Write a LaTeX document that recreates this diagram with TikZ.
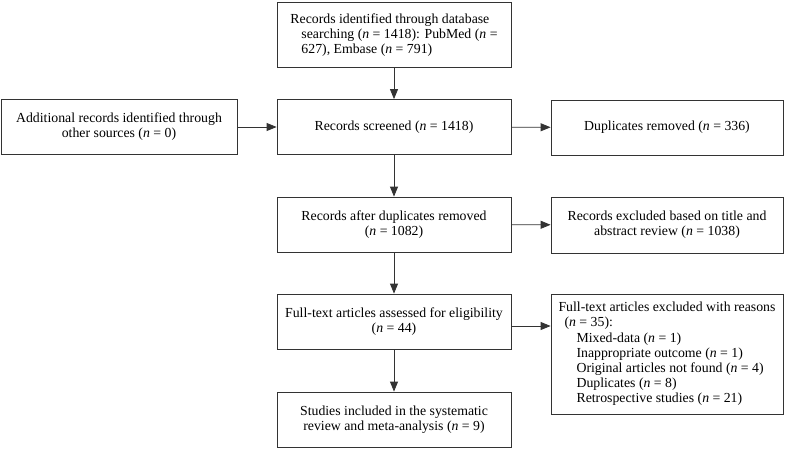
\documentclass[tikz,border=0pt]{standalone}
\usepackage{fontspec}
\setmainfont{Liberation Serif}
\usetikzlibrary{arrows.meta,positioning}
\def\cnt#1{(\textit{n} = #1)}

\begin{document}
\begin{tikzpicture}[x=1pt, y=-1pt,
	box/.style={draw=black!80, line width=0.8pt, minimum width=234pt, minimum height=55pt, inner sep=4pt, align=center, font=\fontsize{13.8}{15.2}\selectfont},
	arr/.style={draw=black!80, line width=0.8pt, -{Triangle[length=10pt,width=8pt]}}]
			%%%%% START %%%%%
			\useasboundingbox (0, 0) rectangle (787, 450);
			
			\node[box, minimum height=65pt, align=left] (ident) at (394, 35) {Records identified through database\\\hspace*{11pt}searching \cnt{1418}: PubMed (\textit{n} =\\\hspace*{11pt}627), Embase \cnt{791}};
			
			\node[box, minimum width=236pt] (other) at (119, 127) {Additional records identified through\\other sources \cnt{0}};
			\node[box] (screen) at (394, 127) {Records screened \cnt{1418}};
			\node[box, minimum width=232pt] (dupl) at (667, 127.5) {Duplicates removed \cnt{336}};
			
			\node[box] (after) at (394, 224.5) {Records after duplicates removed\\\cnt{1082}};
			\node[box, minimum width=232pt, minimum height=56pt] (excl) at (667, 225) {Records excluded based on title and\\abstract review \cnt{1038}};
			
			\node[box] (full) at (394, 321.5) {Full-text articles assessed for eligibility\\\cnt{44}};
			\node[box, minimum width=232pt, minimum height=120pt, align=left] (reason) at (667, 354) {Full-text articles excluded with reasons\\\hspace*{6pt}\cnt{35}:\\\hspace*{18pt}Mixed-data \cnt{1}\\\hspace*{18pt}Inappropriate outcome \cnt{1}\\\hspace*{18pt}Original articles not found \cnt{4}\\\hspace*{18pt}Duplicates \cnt{8}\\\hspace*{18pt}Retrospective studies \cnt{21}};
			
			\node[box] (incl) at (394, 419.5) {Studies included in the systematic\\review and meta-analysis \cnt{9}};
			
			\draw[arr] (ident) -- (screen);
			\draw[arr] (other) -- (screen);
			\draw[arr] (screen) -- (dupl);
			\draw[arr] (screen) -- (after);
			\draw[arr] (after) -- (excl);
			\draw[arr] (after) -- (full);
			\draw[arr] ([yshift=-4.5pt]full.east) -- ([yshift=-4.5pt]full.east -| reason.west);
			\draw[arr] (full) -- (incl);
			
			%%%%% END %%%%%
\end{tikzpicture}
\end{document}
